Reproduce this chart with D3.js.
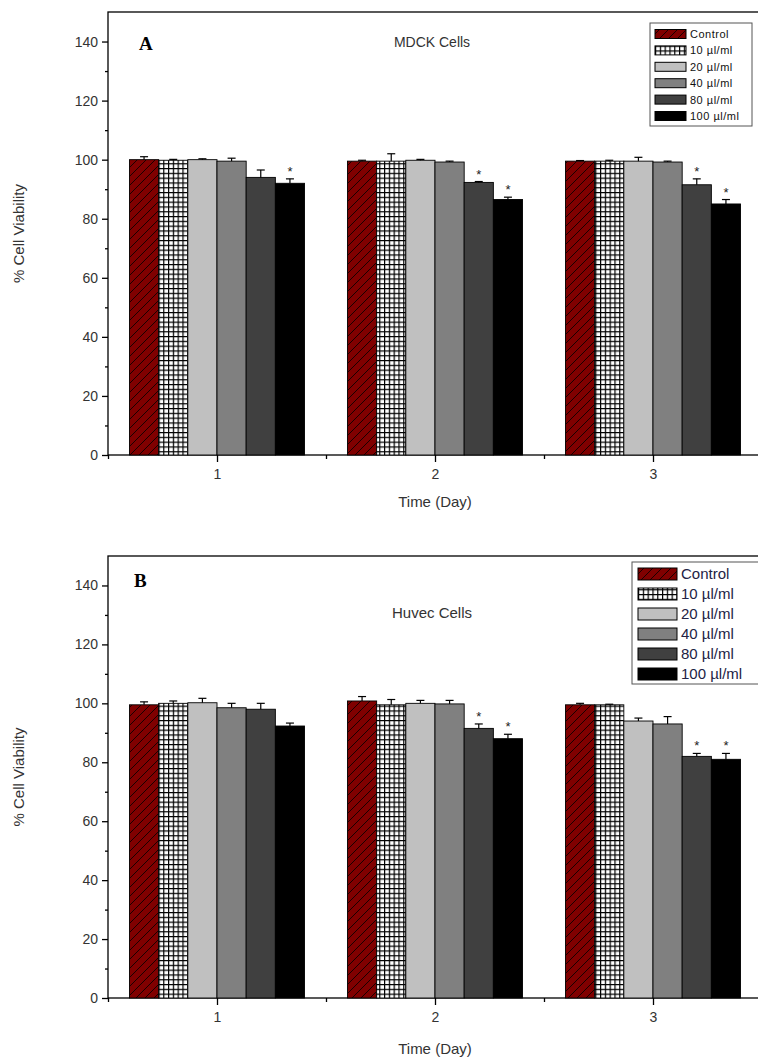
<!DOCTYPE html>
<html>
<head>
<meta charset="utf-8">
<script src="https://cdn.jsdelivr.net/npm/d3@7"></script>
<style>
  body { margin: 0; background: #fff; }
  svg text { font-family: "Liberation Sans", Arial, sans-serif; }
</style>
</head>
<body>
<div id="chart"></div>
<script>
const days = [1, 2, 3]
const doses = ["Control", "10 µl/ml", "20 µl/ml", "40 µl/ml", "80 µl/ml", "100 µl/ml"]
const yTicks = [0, 20, 40, 60, 80, 100, 120, 140]

// MDCK, one row per day, one value per dose
const mdckMean = [
    [100, 99.8, 100, 99.5, 94, 92],
    [99.5, 99.5, 99.8, 99.2, 92.3, 86.5],
    [99.5, 99.5, 99.5, 99.2, 91.5, 85]
]
const mdckErr = [
    [1, 0.3, 0.3, 1, 2.5, 1.5],
    [0.3, 2.5, 0.3, 0.3, 0.3, 0.8],
    [0.2, 0.3, 1.3, 0.3, 2, 1.5]
]
const mdckSig = [
    [0, 0, 0, 0, 0, 1],
    [0, 0, 0, 0, 1, 1],
    [0, 0, 0, 0, 1, 1]
]

// HUVEC
const huvecMean = [
    [99.5, 100, 100.2, 98.5, 98, 92.3],
    [100.8, 99.5, 100, 99.8, 91.5, 88],
    [99.5, 99.5, 94, 93, 82, 81]
]
const huvecErr = [
    [1, 0.8, 1.5, 1.5, 2, 1],
    [1.5, 1.8, 1, 1.2, 1.5, 1.5],
    [0.5, 0.2, 1, 2.5, 1, 2]
]
const huvecSig = [
    [0, 0, 0, 0, 0, 0],
    [0, 0, 0, 0, 1, 1],
    [0, 0, 0, 0, 1, 1]
]

const W = 758, H = 1061
const svg = d3.select('#chart').append('svg')
    .attr('width', W)
    .attr('height', H)

// patterns for control (hatched red) and 10 µl/ml (grid)
const defs = svg.append('defs')
const hatch = defs.append('pattern')
    .attr('id', 'hatch')
    .attr('patternUnits', 'userSpaceOnUse')
    .attr('width', 9).attr('height', 9)
hatch.append('rect').attr('width', 9).attr('height', 9).attr('fill', '#800000')
hatch.append('path')
    .attr('d', 'M0,9 L9,0 M-2,2 L2,-2 M7,11 L11,7')
    .attr('stroke', '#000').attr('stroke-width', 0.8)

const grid = defs.append('pattern')
    .attr('id', 'grid')
    .attr('patternUnits', 'userSpaceOnUse')
    .attr('width', 4.8).attr('height', 4.8)
grid.append('rect').attr('width', 4.8).attr('height', 4.8).attr('fill', '#fff')
grid.append('path')
    .attr('d', 'M0,0.6 H4.8 M0.6,0 V4.8')
    .attr('stroke', '#000').attr('stroke-width', 1.2)

const fills = ['url(#hatch)', 'url(#grid)', '#c0c0c0', '#808080', '#404040', '#000000']
const swatchFill = d3.scaleOrdinal().domain(doses).range(fills)

function drawPanel(cfg) {
    const { top, bottom, left, right } = cfg
    const g = svg.append('g')

    const x = d3.scaleLinear().domain([0.5, 3.5]).range([left, right])
    const y = d3.scaleLinear().domain([0, 150]).range([bottom, top])

    const step = x(2) - x(1)
    const groupW = step * 0.803
    const x1 = d3.scaleBand().domain(doses).range([-groupW / 2, groupW / 2]).padding(0)

    // frame
    g.append('rect')
        .attr('x', left).attr('y', top)
        .attr('width', right - left).attr('height', bottom - top)
        .attr('fill', 'none').attr('stroke', '#000').attr('stroke-width', 1.3)

    // bars
    const rows = []
    days.forEach((d, i) => doses.forEach((k, j) => {
        rows.push({ day: d, dose: k, v: cfg.mean[i][j], e: cfg.err[i][j], s: cfg.sig[i][j] })
    }))

    g.selectAll('rect.bar')
        .data(rows)
        .enter()
        .append('rect')
        .classed('bar', true)
        .attr('x', d => x(d.day) + x1(d.dose))
        .attr('y', d => y(d.v))
        .attr('width', x1.bandwidth())
        .attr('height', d => y(0) - y(d.v))
        .attr('fill', d => swatchFill(d.dose))
        .attr('stroke', '#000')
        .attr('stroke-width', 0.9)

    // error bars
    const eb = g.selectAll('g.err')
        .data(rows)
        .enter()
        .append('g')
        .classed('err', true)
        .attr('transform', d => `translate(${x(d.day) + x1(d.dose) + x1.bandwidth() / 2},0)`)
    eb.append('line')
        .attr('y1', d => y(d.v + d.e)).attr('y2', d => y(d.v))
        .attr('stroke', '#000').attr('stroke-width', 1.2)
    eb.append('line')
        .attr('x1', -4).attr('x2', 4)
        .attr('y1', d => y(d.v + d.e)).attr('y2', d => y(d.v + d.e))
        .attr('stroke', '#000').attr('stroke-width', 1.2)

    // significance stars
    g.selectAll('text.star')
        .data(rows.filter(d => d.s))
        .enter()
        .append('text')
        .attr('x', d => x(d.day) + x1(d.dose) + x1.bandwidth() / 2)
        .attr('y', d => y(d.v + d.e) - 3)
        .attr('text-anchor', 'middle')
        .attr('font-size', 13)
        .attr('fill', '#222')
        .text('*')

    // y axis
    const yAxis = g.append('g')
        .attr('transform', `translate(${left},0)`)
        .call(d3.axisLeft(y).tickValues(yTicks).tickSize(6).tickPadding(4))
    yAxis.append('g').call(d3.axisLeft(y).tickValues(d3.range(10, 150, 20)).tickSize(3).tickFormat(''))
    g.selectAll('.domain').remove()
    yAxis.selectAll('line').attr('stroke', '#000').attr('stroke-width', 1.3)
    yAxis.selectAll('text').attr('font-size', 14).attr('fill', '#333')
        .style('font-family', '"Liberation Sans", Arial, sans-serif')

    // x axis
    const xAxis = g.append('g')
        .attr('transform', `translate(0,${bottom})`)
        .call(d3.axisBottom(x).tickValues(days).tickSize(7).tickPadding(7).tickFormat(d3.format('d')))
    xAxis.append('g').call(d3.axisBottom(x).tickValues([0.5, 1.5, 2.5, 3.5]).tickSize(4).tickFormat(''))
    xAxis.selectAll('.domain').remove()
    xAxis.selectAll('line').attr('stroke', '#000').attr('stroke-width', 1.3)
    xAxis.selectAll('text').attr('font-size', 14).attr('fill', '#333')
        .style('font-family', '"Liberation Sans", Arial, sans-serif')

    // axis titles
    g.append('text')
        .attr('transform', `translate(24,${(top + bottom) / 2}) rotate(-90)`)
        .attr('text-anchor', 'middle')
        .attr('font-size', 15)
        .attr('fill', '#333')
        .text('% Cell Viability')
    g.append('text')
        .attr('x', x(2)).attr('y', bottom + cfg.xTitleDy)
        .attr('text-anchor', 'middle')
        .attr('font-size', 15)
        .attr('fill', '#333')
        .text('Time (Day)')

    // panel letter and title
    g.append('text')
        .attr('x', cfg.letterX).attr('y', top + cfg.letterDy)
        .style('font-family', '"Liberation Serif", "Times New Roman", serif')
        .attr('font-weight', 'bold')
        .attr('font-size', 19)
        .attr('fill', '#000')
        .text(cfg.letter)
    g.append('text')
        .attr('x', cfg.titleX).attr('y', top + cfg.titleDy)
        .attr('text-anchor', 'middle')
        .attr('font-size', cfg.titleSize)
        .attr('fill', '#333')
        .text(cfg.title)

    // legend
    const L = cfg.legend
    g.append('rect')
        .attr('x', L.x).attr('y', L.y)
        .attr('width', L.w).attr('height', L.h)
        .attr('fill', '#fff').attr('stroke', '#555').attr('stroke-width', 1)
    const item = g.selectAll('g.legend')
        .data(doses)
        .enter()
        .append('g')
        .classed('legend', true)
        .attr('transform', (d, i) => `translate(${L.x + L.pad},${L.y + L.first + i * L.row})`)
    item.append('rect')
        .attr('x', 0).attr('y', -L.sh / 2)
        .attr('width', L.sw).attr('height', L.sh)
        .attr('fill', d => swatchFill(d))
        .attr('stroke', '#000').attr('stroke-width', 1)
    item.append('text')
        .attr('x', L.sw + 4).attr('y', 0)
        .attr('dy', '0.36em')
        .attr('font-size', L.fs)
        .attr('fill', L.color)
        .style('letter-spacing', L.ls)
        .text(d => d)
}

drawPanel({
    top: 12, bottom: 455, left: 108, right: 762,
    mean: mdckMean, err: mdckErr, sig: mdckSig,
    xTitleDy: 52,
    letter: 'A', letterX: 139, letterDy: 38,
    title: 'MDCK Cells', titleX: 432, titleDy: 35, titleSize: 14,
    legend: { x: 650, y: 23, w: 102, h: 103, pad: 5, first: 11, row: 16.4, sw: 31, sh: 9, fs: 11, color: '#111', ls: '0.5px' }
})

drawPanel({
    top: 556, bottom: 998, left: 108, right: 762,
    mean: huvecMean, err: huvecErr, sig: huvecSig,
    xTitleDy: 56,
    letter: 'B', letterX: 134, letterDy: 31,
    title: 'Huvec Cells', titleX: 432, titleDy: 62, titleSize: 15,
    legend: { x: 632, y: 562, w: 128, h: 122, pad: 6, first: 12, row: 20, sw: 39, sh: 12, fs: 15, color: '#222244', ls: '0px' }
})
</script>
</body>
</html>
